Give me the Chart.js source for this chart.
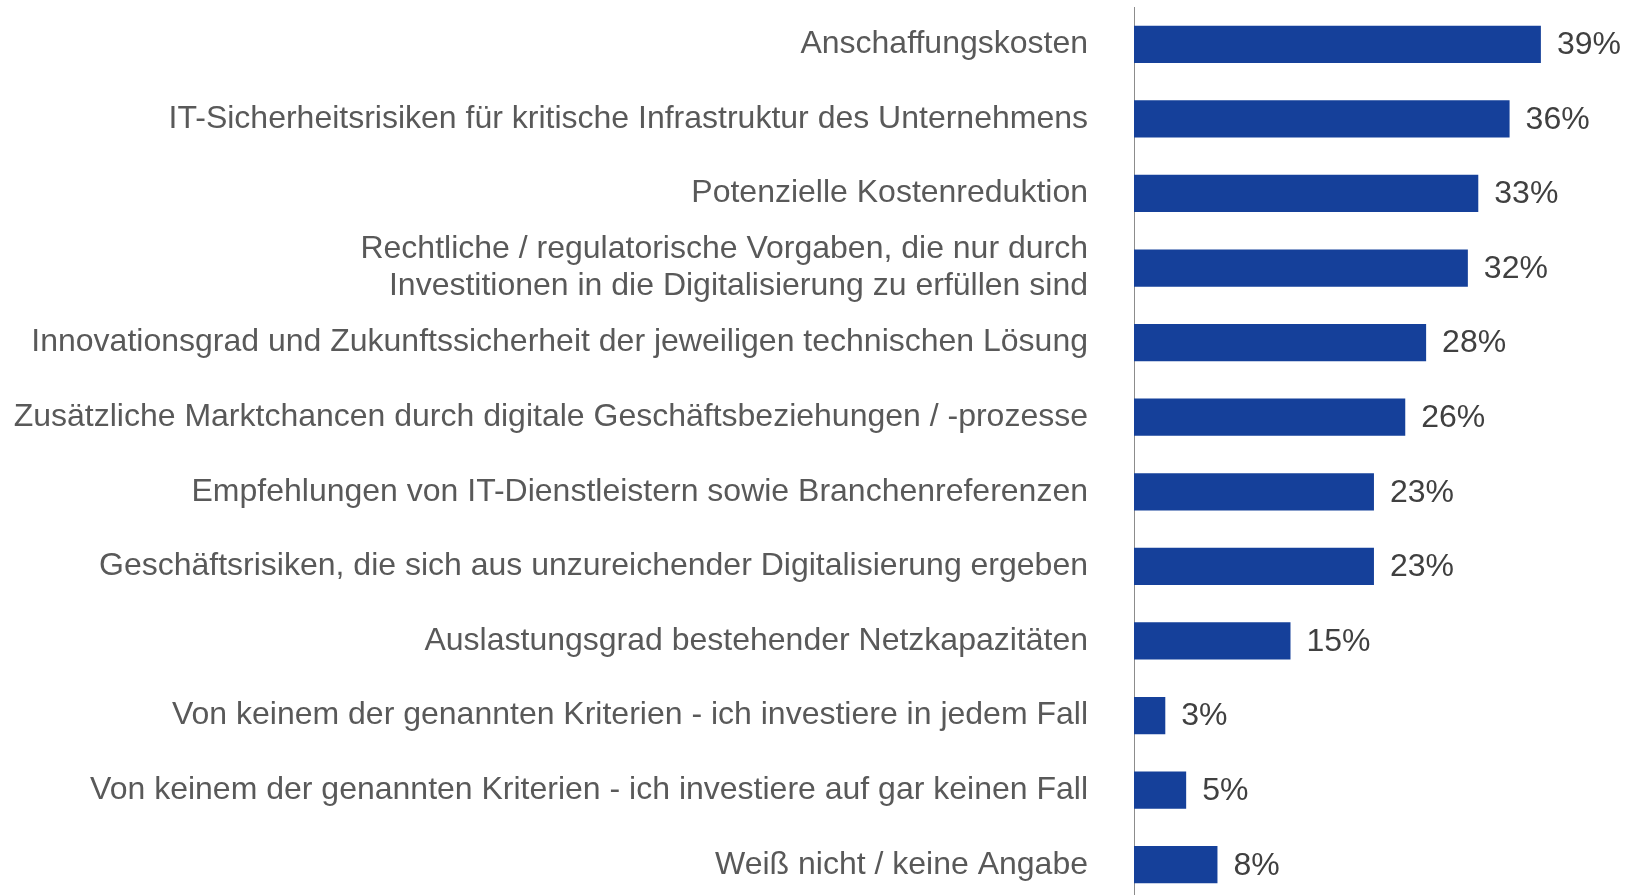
<!DOCTYPE html>
<html>
<head>
<meta charset="utf-8">
<script src="https://cdn.jsdelivr.net/npm/chart.js@4/dist/chart.umd.min.js"></script>
<style>
  html, body { margin: 0; padding: 0; background: #fff; overflow: hidden; }
  #wrap { width: 1640px; height: 902px; position: relative; }
</style>
</head>
<body>
<div id="wrap"><canvas id="criteria-chart"></canvas></div>
<script>
const categories = [
  'Anschaffungskosten',
  'IT-Sicherheitsrisiken für kritische Infrastruktur des Unternehmens',
  'Potenzielle Kostenreduktion',
  ['Rechtliche / regulatorische Vorgaben, die nur durch', 'Investitionen in die Digitalisierung zu erfüllen sind'],
  'Innovationsgrad und Zukunftssicherheit der jeweiligen technischen Lösung',
  'Zusätzliche Marktchancen durch digitale Geschäftsbeziehungen / -prozesse',
  'Empfehlungen von IT-Dienstleistern sowie Branchenreferenzen',
  'Geschäftsrisiken, die sich aus unzureichender Digitalisierung ergeben',
  'Auslastungsgrad bestehender Netzkapazitäten',
  'Von keinem der genannten Kriterien - ich investiere in jedem Fall',
  'Von keinem der genannten Kriterien - ich investiere auf gar keinen Fall',
  'Weiß nicht / keine Angabe'
];
const shares = [39, 36, 33, 32, 28, 26, 23, 23, 15, 3, 5, 8];
const valueLabels = ['39%', '36%', '33%', '32%', '28%', '26%', '23%', '23%', '15%', '3%', '5%', '8%'];

const FONT = "'Liberation Sans', Arial, sans-serif";

// writes the percentage right of each bar
const valueLabelPlugin = {
  id: 'valueLabels',
  afterDatasetsDraw(chart) {
    let ctx = chart.ctx;
    let meta = chart.getDatasetMeta(0);
    ctx.save();
    ctx.font = '32px ' + FONT;
    ctx.fillStyle = '#404040';
    ctx.textAlign = 'left';
    ctx.textBaseline = 'middle';
    meta.data.forEach((bar, i) => {
      ctx.fillText(valueLabels[i], bar.x + 16, bar.y + 1);
    });
    ctx.restore();
  }
};

let ctx = document.getElementById('criteria-chart');
new Chart(ctx, {
  type: 'bar',
  data: {
    labels: categories,
    datasets: [{
      label: 'Anteil',
      data: shares,
      backgroundColor: '#15409A',
      borderWidth: 0,
      barPercentage: 0.5,
      categoryPercentage: 1.0
    }]
  },
  options: {
    indexAxis: 'y',
    responsive: true,
    maintainAspectRatio: false,
    animation: false,
    layout: { padding: { top: 7, right: 0, bottom: 0, left: 0 } },
    plugins: {
      legend: { display: false },
      tooltip: { enabled: false }
    },
    scales: {
      x: {
        display: false,
        min: 0,
        max: 48.5
      },
      y: {
        afterFit: (scale) => {
          scale.width = 1134;
          scale.paddingTop = 0;
          scale.paddingBottom = 0;
        },
        grid: {
          display: false,
          drawTicks: false
        },
        border: {
          display: true,
          color: '#8c8c8c',
          width: 1
        },
        ticks: {
          color: '#595959',
          padding: 46,
          autoSkip: false,
          font: {
            size: 32,
            family: FONT,
            lineHeight: 1.15
          }
        }
      }
    }
  },
  plugins: [valueLabelPlugin]
});
</script>
</body>
</html>
